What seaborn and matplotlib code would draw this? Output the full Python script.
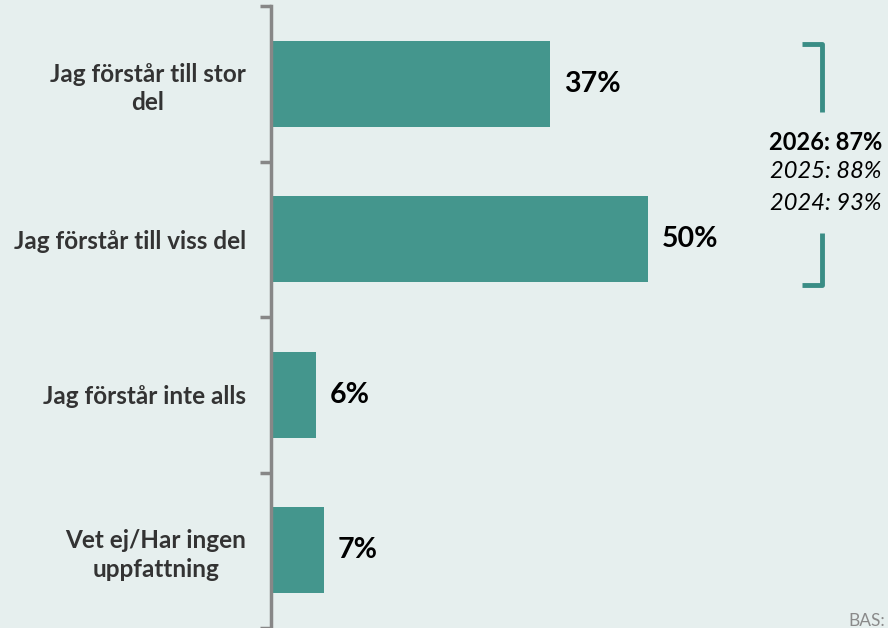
import matplotlib
matplotlib.use("Agg")
import matplotlib.pyplot as plt
import seaborn as sns
import pandas as pd

categories = ["Jag förstår till stor\ndel", "Jag förstår till viss del",
              "Jag förstår inte alls", "Vet ej/Har ingen\nuppfattning"]
values = [37, 50, 6, 7]
value_labels = ["37%", "50%", "6%", "7%"]
summary_lines = ["2026: 87%", "2025: 88%", "2024: 93%"]
footer = "BAS:"

BG = "#E6EFEE"
BAR = "#44968D"
TEAL = "#3A8D85"
FONT = "Lato"

sns.set_theme(style="white")
plt.rcParams["font.family"] = [FONT, "DejaVu Sans"]

W, H = 888, 628
fig = plt.figure(figsize=(W / 100, H / 100), dpi=100, facecolor=BG)
ax = fig.add_axes([271 / W, 0, 1 - 271 / W, (H - 6) / H])
ax.set_facecolor(BG)

df = pd.DataFrame({"cat": categories, "val": values})
sns.barplot(data=df, x="val", y="cat", orient="h", color=BAR, width=0.55,
            saturation=1, linewidth=0, ax=ax)
ax.set_xlim(0, 81.9)
ax.set_ylim(len(categories) - 0.5, -0.5)
ax.set_xlabel("")
ax.set_ylabel("")
ax.set_xticks([])

for s in ["top", "right", "bottom"]:
    ax.spines[s].set_visible(False)
ax.spines["left"].set_color("#878787")
ax.spines["left"].set_linewidth(2.5)

ax.tick_params(axis="y", which="major", left=False, length=0, pad=18)
ax.set_yticks([i + 0.5 for i in range(-1, len(categories))], minor=True)
ax.tick_params(axis="y", which="minor", left=True, length=8, width=2.5,
               color="#878787", direction="out")
for lbl in ax.get_yticklabels():
    lbl.set_fontsize(17.5)
    lbl.set_fontweight("bold")
    lbl.set_color("#333333")
    lbl.set_multialignment("center")
    lbl.set_linespacing(1.3)

for i, (v, t) in enumerate(zip(values, value_labels)):
    ax.annotate(t, xy=(v, i), xytext=(10, 0), textcoords="offset points",
                ha="left", va="center", fontsize=20.5, fontweight="bold",
                color="black")

def px(x, y):
    return (x / W, 1 - y / H)

bx0, bx1 = 802, 822
for pts in ([(bx0, 44), (bx1, 44), (bx1, 112)], [(bx1, 233), (bx1, 285), (bx0, 285)]):
    xs = [px(*p)[0] for p in pts]
    ys = [px(*p)[1] for p in pts]
    fig.add_artist(plt.Line2D(xs, ys, transform=fig.transFigure, color=TEAL,
                              linewidth=3.5, solid_joinstyle="round",
                              solid_capstyle="butt"))

ys_txt = [143, 172, 203]
for k, (line, y) in enumerate(zip(summary_lines, ys_txt)):
    fig.text(*px(826, y), line, ha="center", va="center", fontsize=17,
             fontweight="bold" if k == 0 else "normal",
             fontstyle="normal" if k == 0 else "italic", color="black")

fig.text(*px(848, 621), footer, ha="left", va="center", fontsize=12.5,
         color="#8a8a8a")

fig.savefig("out.png", dpi=100, facecolor=BG)
